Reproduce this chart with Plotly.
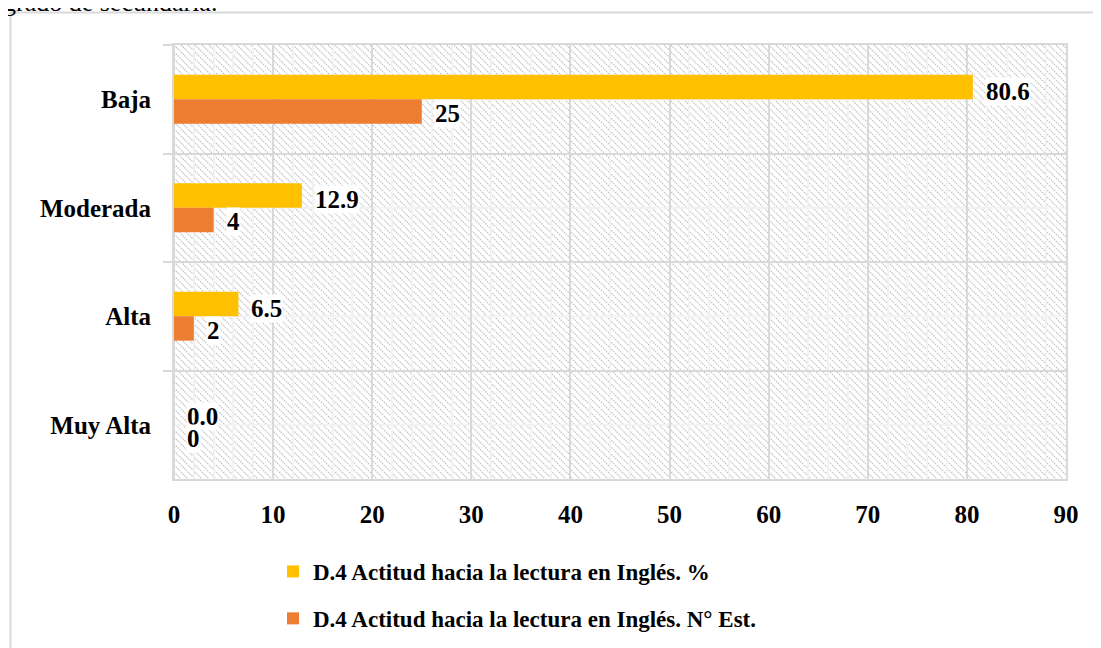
import base64
import plotly.graph_objects as go

categories = ["Baja", "Moderada", "Alta", "Muy Alta"]
pct_values = [80.6, 12.9, 6.5, 0.0]
n_values = [25, 4, 2, 0]
pct_labels = ["80.6", "12.9", "6.5", "0.0"]
n_labels = ["25", "4", "2", "0"]
series_names = ["D.4 Actitud hacia la lectura en Inglés. %",
                "D.4 Actitud hacia la lectura en Inglés. N° Est."]
x_ticks = [0, 10, 20, 30, 40, 50, 60, 70, 80, 90]

OFF = 8  # page body margin
W, H = 1101 - OFF, 648 - OFF
ML, MT = 174 - OFF, 45 - OFF
PW, PH = 892, 434
MR = W - ML - PW
MB = H - MT - PH

FONT = "Liberation Serif, Times New Roman, serif"
GRID = "#d9d9d9"
YELLOW = "#FFC000"
ORANGE = "#ED7D31"

svg = f'''<svg xmlns="http://www.w3.org/2000/svg" width="{PW}" height="{PH}" viewBox="0 0 {PW} {PH}" preserveAspectRatio="none">
<defs><pattern id="p" patternUnits="userSpaceOnUse" width="7" height="7">
<path d="M0,0 L7,7 M-1,6 L1,8 M6,-1 L8,1" stroke="#c2c2c2" stroke-width="1.2" stroke-dasharray="1.5,0.9"/>
</pattern></defs>
<rect width="{PW}" height="{PH}" fill="white"/>
<rect width="{PW}" height="{PH}" fill="url(#p)"/>
</svg>'''
src = "data:image/svg+xml;base64," + base64.b64encode(svg.encode()).decode()

def px_x(px):
    return (px - OFF - ML) / PW

def px_y(py):
    return 1 - (py - OFF - MT) / PH

fig = go.Figure()
fig.add_trace(go.Bar(y=categories, x=pct_values, orientation="h", name=series_names[0],
                     marker=dict(color=YELLOW, line=dict(width=0)), legendgroup="a"))
fig.add_trace(go.Bar(y=categories, x=n_values, orientation="h", name=series_names[1],
                     marker=dict(color=ORANGE, line=dict(width=0)), legendgroup="b"))

label_font = dict(family=FONT, size=25, color="black", weight="bold")
annotations = []
for cat, v, t in zip(categories, pct_values, pct_labels):
    annotations.append(dict(x=v, y=cat, xref="x", yref="y", text=t, showarrow=False,
                            xanchor="left", yanchor="middle", xshift=12, yshift=8,
                            bgcolor="white", borderpad=0, font=label_font))
for cat, v, t in zip(categories, n_values, n_labels):
    annotations.append(dict(x=v, y=cat, xref="x", yref="y", text=t, showarrow=False,
                            xanchor="left", yanchor="middle", xshift=12, yshift=-14,
                            bgcolor="white", borderpad=0, font=label_font))
annotations.append(dict(x=px_x(1), y=px_y(19), xref="paper", yref="paper",
                        text="grado de secundaria.", showarrow=False,
                        xanchor="left", yanchor="bottom",
                        font=dict(family=FONT, size=26, color="black")))

shapes = []
for cat in categories:
    shapes.append(dict(type="line", xref="paper", yref="y", x0=0, x1=1, y0=cat, y1=cat,
                       line=dict(color="#f2f2f2", width=2), layer="below"))
shapes.append(dict(type="rect", xref="paper", yref="paper",
                   x0=px_x(10.5), x1=px_x(1101 + 20),
                   y0=px_y(12.5), y1=px_y(648 + 20),
                   line=dict(color=GRID, width=2), fillcolor="rgba(0,0,0,0)", layer="above"))

fig.update_layout(
    width=W, height=H,
    margin=dict(l=ML, r=MR, t=MT, b=MB, pad=0, autoexpand=False),
    paper_bgcolor="white", plot_bgcolor="white",
    barmode="group", bargap=0.55, bargroupgap=0,
    font=dict(family=FONT, color="black"),
    showlegend=True,
    legend=dict(x=px_x(273), y=px_y(550), xanchor="left", yanchor="top",
                orientation="v", traceorder="grouped", tracegroupgap=14,
                font=dict(family=FONT, size=23, color="black", weight="bold"),
                bgcolor="rgba(0,0,0,0)"),
    images=[dict(source=src, xref="paper", yref="paper", x=0, y=1, sizex=1, sizey=1,
                 xanchor="left", yanchor="top", sizing="stretch", layer="below")],
    annotations=annotations,
    shapes=shapes,
    xaxis=dict(range=[0, 90], tickvals=x_ticks, ticktext=[str(v) for v in x_ticks],
               showgrid=True, gridcolor=GRID, gridwidth=2,
               minor=dict(dtick=2, showgrid=True, gridcolor="#f2f2f2", gridwidth=2),
               zeroline=True, zerolinecolor=GRID, zerolinewidth=2,
               showline=True, linecolor=GRID, linewidth=2, mirror=True,
               ticks="", ticklabelstandoff=12,
               tickfont=dict(family=FONT, size=25, color="black", weight="bold")),
    yaxis=dict(type="category", categoryorder="array", categoryarray=categories,
               autorange="reversed", tickson="boundaries",
               ticks="outside", ticklen=9, tickcolor=GRID, tickwidth=2,
               showgrid=True, gridcolor=GRID, gridwidth=2,
               showline=True, linecolor=GRID, linewidth=2, mirror=True,
               ticklabelstandoff=16,
               tickfont=dict(family=FONT, size=25, color="black", weight="bold")),
)

fig.write_html("out.html")
